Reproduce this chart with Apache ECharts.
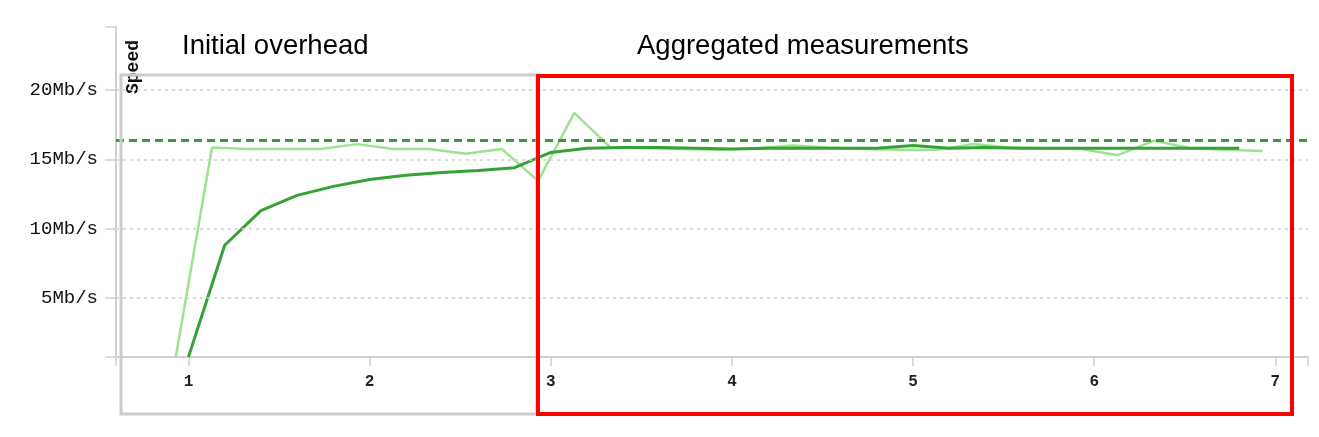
<!DOCTYPE html>
<html>
<head>
<meta charset="utf-8">
<script src="https://cdn.jsdelivr.net/npm/echarts@6/dist/echarts.min.js"></script>
<style>
  * { margin: 0; padding: 0; }
  html, body { background: #fff; }
  #chart { width: 1319px; height: 437px; }
</style>
</head>
<body>
<div id="chart"></div>
<script>
// raw measurements (light line)
var lightX = [0.93, 1.13, 1.33, 1.53, 1.73, 1.93, 2.13, 2.33, 2.53, 2.73, 2.93,
  3.13, 3.33, 3.53, 3.73, 3.93, 4.13, 4.33, 4.53, 4.73, 4.93,
  5.13, 5.33, 5.53, 5.73, 5.93, 6.13, 6.33, 6.53, 6.73, 6.93]
var lightSpeed = [0.74, 15.85, 15.75, 15.75, 15.75, 16.1, 15.75, 15.75, 15.4, 15.75, 13.45,
  18.35, 15.85, 15.8, 15.75, 15.7, 15.8, 16.0, 15.85, 15.75, 15.7,
  15.7, 16.1, 15.85, 15.8, 15.75, 15.3, 16.35, 15.8, 15.7, 15.6]
// running average (dark line)
var darkX = [1.0, 1.2, 1.4, 1.6, 1.8, 2.0, 2.2, 2.4, 2.6, 2.8,
  3.0, 3.2, 3.4, 3.6, 3.8, 4.0, 4.2, 4.4, 4.6, 4.8,
  5.0, 5.2, 5.4, 5.6, 5.8, 6.0, 6.2, 6.4, 6.6, 6.8]
var darkSpeed = [0.74, 8.8, 11.3, 12.4, 13.05, 13.55, 13.85, 14.05, 14.2, 14.4,
  15.5, 15.8, 15.85, 15.85, 15.8, 15.75, 15.8, 15.8, 15.8, 15.8,
  16.0, 15.8, 15.85, 15.8, 15.8, 15.8, 15.8, 15.8, 15.8, 15.8]
var avgSpeed = 16.4
var yTicks = [5, 10, 15, 20]
var xTicks = [1, 2, 3, 4, 5, 6, 7]
var yMin = 0.74
var yMax = 24.55
var xMin = 0.6
var xMax = 7.18

function pairs (xs, ys) {
  return xs.map(function (x, i) { return [x, ys[i]] })
}

var chart = echarts.init(document.getElementById('chart'))
var monoFont = 'Liberation Mono'

var option = {
  animation: false,
  grid: { left: 116, right: 11, top: 27, bottom: 80 },
  xAxis: {
    type: 'value',
    min: xMin,
    max: xMax,
    axisLine: { show: true, lineStyle: { color: '#d0d0d0', width: 2 } },
    axisTick: {
      show: true,
      length: 9,
      customValues: [xMin].concat(xTicks).concat([xMax]),
      lineStyle: { color: '#d0d0d0', width: 1.5 }
    },
    axisLabel: {
      customValues: xTicks,
      margin: 17,
      color: '#222',
      fontFamily: monoFont,
      fontSize: 16,
      fontWeight: 'bold'
    },
    splitLine: { show: false }
  },
  yAxis: {
    type: 'value',
    min: yMin,
    max: yMax,
    axisLine: { show: true, lineStyle: { color: '#d0d0d0', width: 2 } },
    axisTick: {
      show: true,
      length: 11,
      customValues: [yMin].concat(yTicks).concat([yMax]),
      lineStyle: { color: '#d0d0d0', width: 1.5 }
    },
    axisLabel: {
      customValues: yTicks,
      margin: 18,
      color: '#111',
      fontFamily: monoFont,
      fontSize: 19,
      formatter: function (v) { return v + 'Mb/s' }
    },
    splitLine: { show: false }
  },
  graphic: [
    {
      type: 'text', left: 182, top: 32,
      style: { text: 'Initial overhead', font: '27.5px "Liberation Sans"', fill: '#000' }
    },
    {
      type: 'text', left: 637, top: 32,
      style: { text: 'Aggregated measurements', font: '27.5px "Liberation Sans"', fill: '#000' }
    },
    {
      type: 'text', x: 133, y: 67, rotation: Math.PI / 2,
      style: {
        text: 'Speed', font: 'bold 18px "Liberation Mono"', fill: '#111',
        align: 'center', verticalAlign: 'middle'
      }
    },
    {
      type: 'rect', z: 100,
      shape: { x: 121, y: 75, width: 416, height: 339 },
      style: { fill: 'none', stroke: '#cccccc', lineWidth: 3 }
    },
    {
      type: 'rect', z: 101,
      shape: { x: 538, y: 76, width: 754, height: 338 },
      style: { fill: 'none', stroke: '#ff0000', lineWidth: 4 }
    }
  ],
  series: [
    {
      name: 'grid',
      type: 'line',
      data: [],
      z: 1,
      markLine: {
        silent: true,
        symbol: 'none',
        label: { show: false },
        lineStyle: { color: '#cfcfcf', type: [3, 4], width: 1.5 },
        data: yTicks.map(function (v) { return { yAxis: v } })
      }
    },
    {
      name: 'measured',
      type: 'line',
      z: 3,
      data: pairs(lightX, lightSpeed),
      symbol: 'none',
      lineStyle: { color: '#9ce38f', width: 2.5 }
    },
    {
      name: 'average',
      type: 'line',
      z: 4,
      data: pairs(darkX, darkSpeed),
      symbol: 'none',
      lineStyle: { color: '#36a236', width: 3 },
      markLine: {
        silent: true,
        symbol: 'none',
        label: { show: false },
        lineStyle: { color: '#3a9a3a', type: [8, 5], width: 3 },
        data: [{ yAxis: avgSpeed }]
      }
    }
  ]
}
chart.setOption(option)
</script>
</body>
</html>
